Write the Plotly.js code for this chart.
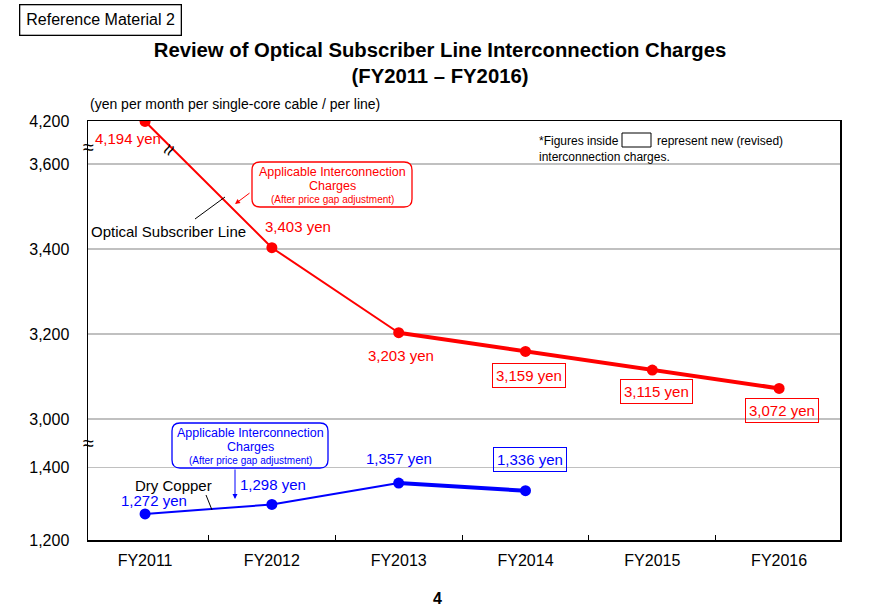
<!DOCTYPE html>
<html>
<head>
<meta charset="utf-8">
<script src="https://cdn.plot.ly/plotly-3.0.1.min.js"></script>
<style>html,body{margin:0;padding:0;background:#fff;}#chart{width:880px;height:609px;}</style>
</head>
<body>
<div id="chart"></div>
<script>
// ---- data ----
const categories = ['FY2011', 'FY2012', 'FY2013', 'FY2014', 'FY2015', 'FY2016'];
const opticalValues = [4194, 3403, 3203, 3159, 3115, 3072];
const opticalIsNew = [false, false, false, true, true, true];
const dryCopperValues = [1272, 1298, 1357, 1336];
const dryCopperIsNew = [false, false, false, true];
const yTickValues = [1200, 1400, 3000, 3200, 3400, 3600, 4200];
const yTickLabels = ['1,200', '1,400', '3,000', '3,200', '3,400', '3,600', '4,200'];

// ---- broken-axis transform (real value -> axis coordinate) ----
function brk(v) {
  if (v >= 3600) return 3600 + (v - 3600) * 0.1686;
  if (v >= 3000) return v;
  if (v >= 1400) return 2885.9;
  return 2885.9 - (1400 - v) * 0.853;
}
const FONT = 'Liberation Sans, Arial, sans-serif';
const RED = '#ff0000', BLUE = '#0000ff';
const L = 88, R = 840, T = 121, B = 540;
const px = (x) => (x - L) / (R - L);
const py = (y) => (B - y) / (B - T);
const idx = categories.map((c, i) => i);

const traces = [
  {x: idx.slice(0, 3), y: opticalValues.slice(0, 3).map(brk), mode: 'lines', line: {color: RED, width: 2}, hoverinfo: 'skip'},
  {x: idx.slice(2, 6), y: opticalValues.slice(2, 6).map(brk), mode: 'lines', line: {color: RED, width: 4}, hoverinfo: 'skip'},
  {x: idx, y: opticalValues.map(brk), mode: 'markers', marker: {color: RED, size: 11}, hoverinfo: 'skip'},
  {x: idx.slice(0, 3), y: dryCopperValues.slice(0, 3).map(brk), mode: 'lines', line: {color: BLUE, width: 2}, hoverinfo: 'skip'},
  {x: idx.slice(2, 4), y: dryCopperValues.slice(2, 4).map(brk), mode: 'lines', line: {color: BLUE, width: 4}, hoverinfo: 'skip'},
  {x: idx.slice(0, 4), y: dryCopperValues.map(brk), mode: 'markers', marker: {color: BLUE, size: 11}, hoverinfo: 'skip'},
  // invisible trace on xaxis2 for mid-category tick marks
  {x: [0.5], y: [brk(3000)], xaxis: 'x2', mode: 'markers', marker: {opacity: 0}, hoverinfo: 'skip'}
];

const fmt = (v) => v.toLocaleString('en-US') + ' yen';
const optOff = [[-17, 17], [26, -21], [2, 23], [3, 24], [4, 21], [3, 22]];
const cuOff = [[9, -13], [1, -20], [0, -25], [4, -31]];

const ann = [];
opticalValues.forEach((v, i) => {
  ann.push({x: i, y: brk(v), xref: 'x', yref: 'y', text: fmt(v), showarrow: false,
    xshift: optOff[i][0], yshift: -optOff[i][1],
    font: {family: FONT, size: 15, color: RED},
    bordercolor: opticalIsNew[i] ? RED : 'rgba(0,0,0,0)', borderwidth: 1, borderpad: 3});
});
dryCopperValues.forEach((v, i) => {
  ann.push({x: i, y: brk(v), xref: 'x', yref: 'y', text: fmt(v), showarrow: false,
    xshift: cuOff[i][0], yshift: -cuOff[i][1],
    font: {family: FONT, size: 15, color: BLUE},
    bordercolor: dryCopperIsNew[i] ? BLUE : 'rgba(0,0,0,0)', borderwidth: 1, borderpad: 3});
});

function txt(x, y, text, opts) {
  const p = {x: px(x), y: py(y), xref: 'paper', yref: 'paper', text: text, showarrow: false,
    font: {family: FONT, size: 14, color: '#000'}, xanchor: 'center', yanchor: 'middle'};
  return Object.assign(p, opts || {});
}
// header / misc text
ann.push(txt(100, 20, 'Reference Material 2', {font: {family: FONT, size: 16, color: '#000'}, bordercolor: '#000', borderwidth: 1.3, borderpad: 6}));
ann.push(txt(88, 104, '(yen per month per single-core cable / per line)', {xanchor: 'left'}));
ann.push(txt(537, 141, '*Figures inside', {xanchor: 'left', font: {family: FONT, size: 12, color: '#000'}}));
ann.push(txt(655, 141, 'represent new (revised)', {xanchor: 'left', font: {family: FONT, size: 12, color: '#000'}}));
ann.push(txt(537, 157, 'interconnection charges.', {xanchor: 'left', font: {family: FONT, size: 12, color: '#000'}}));
ann.push(txt(168, 231, 'Optical Subscriber Line', {font: {family: FONT, size: 15, color: '#000'}}));
ann.push(txt(173, 485, 'Dry Copper', {font: {family: FONT, size: 15, color: '#000'}}));
// callouts
ann.push(txt(332, 172, 'Applicable Interconnection', {font: {family: FONT, size: 12.5, color: RED}}));
ann.push(txt(332, 186, 'Charges', {font: {family: FONT, size: 12.5, color: RED}}));
ann.push(txt(332, 199, '(After price gap adjustment)', {font: {family: FONT, size: 10, color: RED}}));
ann.push(txt(250, 433, 'Applicable Interconnection', {font: {family: FONT, size: 12.5, color: BLUE}}));
ann.push(txt(250, 447, 'Charges', {font: {family: FONT, size: 12.5, color: BLUE}}));
ann.push(txt(250, 460, '(After price gap adjustment)', {font: {family: FONT, size: 10, color: BLUE}}));
// arrows
ann.push({x: px(235), y: py(204), xref: 'paper', yref: 'paper', ax: 16, ay: -12, axref: 'pixel', ayref: 'pixel', text: '', showarrow: true, arrowhead: 2, arrowsize: 1, arrowwidth: 1, arrowcolor: RED});
ann.push({x: px(235), y: py(499), xref: 'paper', yref: 'paper', ax: 0, ay: -31, text: '', showarrow: true, arrowhead: 2, arrowsize: 1, arrowwidth: 1, arrowcolor: BLUE});
// break marks
ann.push(txt(88, 147, '≈', {font: {family: FONT, size: 20, color: '#000'}}));
ann.push(txt(88, 443, '≈', {font: {family: FONT, size: 20, color: '#000'}}));
ann.push(txt(168, 149, '≈', {font: {family: FONT, size: 21, color: '#000'}, textangle: -60}));
// page number
ann.push(txt(437, 598, '<b>4</b>', {font: {family: FONT, size: 16, color: '#000'}}));

function roundRect(x0, y0, x1, y1, r) {
  const X = (x) => px(x), Y = (y) => py(y);
  return {type: 'path', xref: 'paper', yref: 'paper',
    path: `M ${X(x0 + r)} ${Y(y0)} L ${X(x1 - r)} ${Y(y0)} Q ${X(x1)} ${Y(y0)} ${X(x1)} ${Y(y0 + r)} L ${X(x1)} ${Y(y1 - r)} Q ${X(x1)} ${Y(y1)} ${X(x1 - r)} ${Y(y1)} L ${X(x0 + r)} ${Y(y1)} Q ${X(x0)} ${Y(y1)} ${X(x0)} ${Y(y1 - r)} L ${X(x0)} ${Y(y0 + r)} Q ${X(x0)} ${Y(y0)} ${X(x0 + r)} ${Y(y0)} Z`};
}
const shapes = [
  Object.assign(roundRect(252, 162, 412, 207, 8), {line: {color: RED, width: 1.3}, fillcolor: '#fff'}),
  Object.assign(roundRect(172, 423, 328, 468, 8), {line: {color: BLUE, width: 1.3}, fillcolor: '#fff'}),
  {type: 'rect', xref: 'paper', yref: 'paper', x0: px(622), x1: px(651), y0: py(133), y1: py(147), line: {color: '#000', width: 1}},
  {type: 'line', xref: 'paper', yref: 'paper', x0: px(195), y0: py(219), x1: px(225), y1: py(197), line: {color: '#000', width: 1}},
  {type: 'line', xref: 'paper', yref: 'paper', x0: px(206), y0: py(495), x1: px(212), y1: py(510), line: {color: '#000', width: 1}}
];

const layout = {
  width: 880, height: 609,
  margin: {l: L, r: 880 - R, t: T, b: 609 - B},
  paper_bgcolor: '#fff', plot_bgcolor: '#fff',
  showlegend: false,
  font: {family: FONT, color: '#000'},
  title: {text: '<b>Review of Optical Subscriber Line Interconnection Charges</b><br><b>(FY2011 – FY2016)</b>',
    x: 0.5, xanchor: 'center', y: 1 - 57 / 609, yanchor: 'top', yref: 'container',
    font: {family: FONT, size: 20.3, color: '#000'}},
  xaxis: {range: [-0.45, 5.48], tickvals: idx, ticktext: categories, ticks: '', showgrid: false, zeroline: false,
    showline: true, linecolor: '#000', linewidth: 1.5, mirror: true, ticklabelstandoff: 5,
    tickfont: {family: FONT, size: 16, color: '#000'}, fixedrange: true},
  xaxis2: {overlaying: 'x', range: [-0.45, 5.48], tickvals: [0.5, 1.5, 2.5, 3.5, 4.5], ticks: 'inside', ticklen: 5,
    tickcolor: '#000', tickwidth: 1, showticklabels: false, showgrid: false, zeroline: false, showline: false, side: 'bottom'},
  yaxis: {range: [brk(1200), brk(4200)], tickvals: yTickValues.map(brk), ticktext: yTickLabels, ticks: '',
    showgrid: true, gridcolor: '#c0c0c0', gridwidth: 1.5, zeroline: false, showline: true, linecolor: '#000', linewidth: 1.5,
    mirror: true, ticklabelstandoff: 14, tickfont: {family: FONT, size: 16, color: '#000'}, fixedrange: true},
  annotations: ann,
  shapes: shapes
};
Plotly.newPlot('chart', traces, layout, {displayModeBar: false, staticPlot: true});
</script>
</body>
</html>
